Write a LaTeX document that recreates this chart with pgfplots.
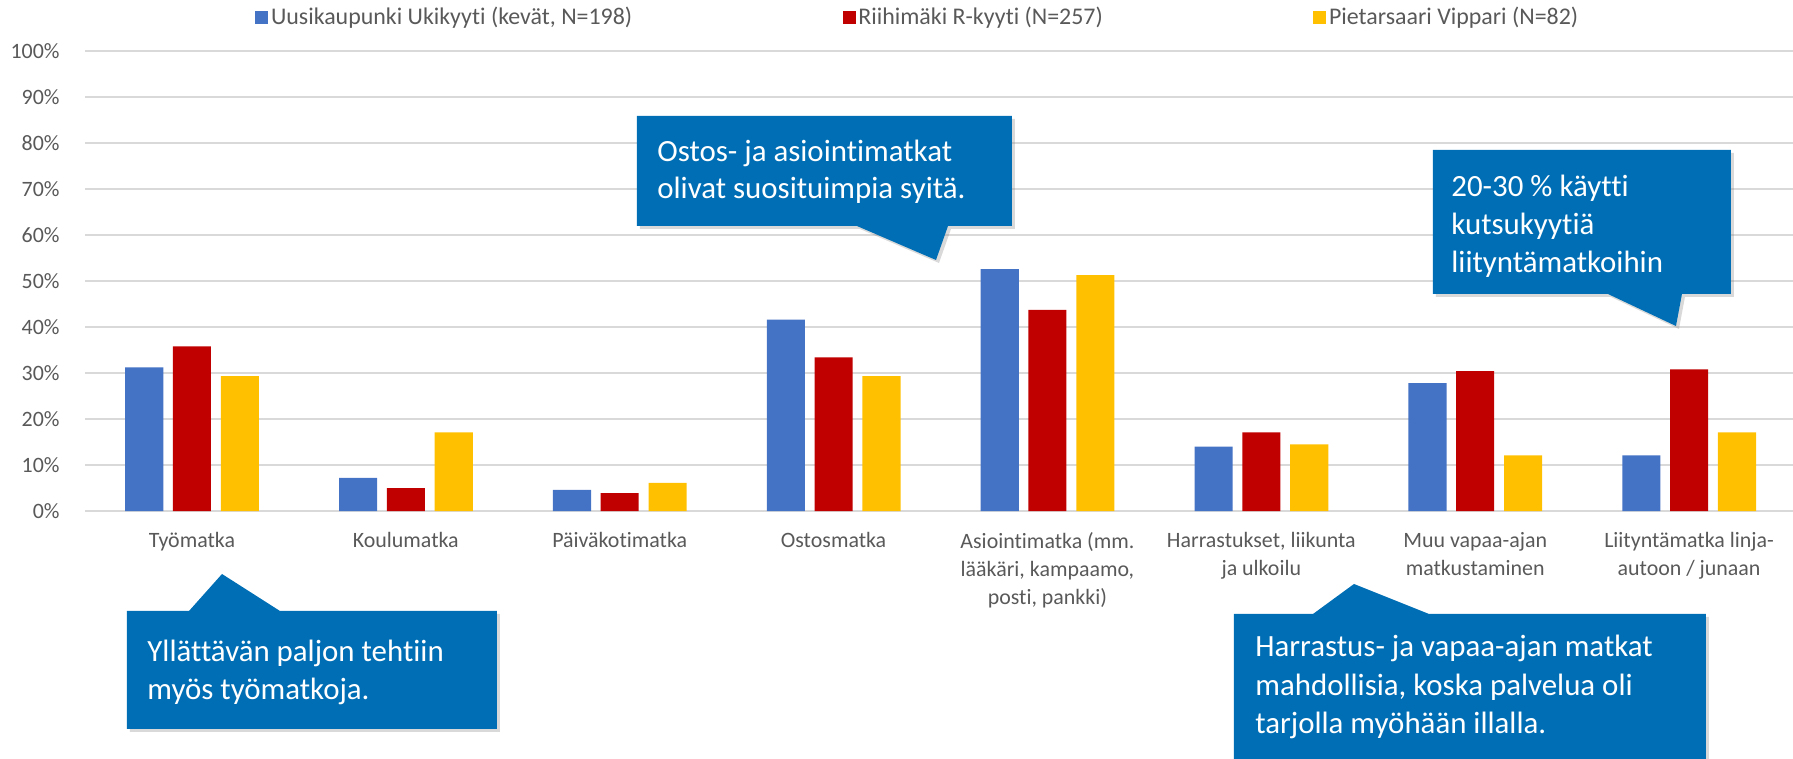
\documentclass[border=0pt]{standalone}
\usepackage{pgfplots}
\pgfplotsset{compat=1.18}
\usepackage{fontspec}
\setmainfont{Carlito}[Ligatures=NoCommon]
\usetikzlibrary{shadows}
\definecolor{cBlue}{HTML}{4472C4}
\definecolor{cRed}{HTML}{C00000}
\definecolor{cYellow}{HTML}{FFC000}
\definecolor{cCall}{HTML}{006EB4}
\definecolor{cText}{HTML}{595959}
\definecolor{cGrid}{HTML}{D9D9D9}
\begin{document}
\begin{tikzpicture}
\path[use as bounding box] (0,0) rectangle (896.5bp,-379.5bp);
\begin{axis}[
  scale only axis,
  width=855.5bp, height=230bp,
  at={(42.5bp,-255.5bp)}, anchor=south west,
  ybar, bar width=0.178,
  xmin=-0.5, xmax=7.5, ymin=0, ymax=100,
  xtick={0,...,7},
  xticklabels={Työmatka, Koulumatka, Päiväkotimatka, Ostosmatka,
    {Asiointimatka (mm.\\lääkäri, kampaamo,\\posti, pankki)},
    {Harrastukset, liikunta\\ja ulkoilu},
    {Muu vapaa-ajan\\matkustaminen},
    {Liityntämatka linja-\\autoon / junaan}},
  ytick={0,10,...,100},
  yticklabels={0\%,10\%,20\%,30\%,40\%,50\%,60\%,70\%,80\%,90\%,100\%},
  major tick length=0pt,
  axis line style={draw=none},
  ymajorgrids, grid style={cGrid, line width=1bp},
  tick label style={text=cText, font=\fontsize{11}{14}\selectfont, inner sep=0pt},
  xticklabel style={align=center, yshift=-10.5bp},
  yticklabel style={xshift=-12.5bp},
  legend columns=3,
  legend style={at={(axis description cs:0.0994,1.0739)}, anchor=west,
    draw=none, fill=none, inner sep=0pt, text=cText,
    font=\fontsize{12}{14}\selectfont,
    nodes={inner sep=1.3bp},
    /tikz/every even column/.append style={column sep=104bp}},
]
\addplot[draw=none, fill=cBlue, bar shift=-0.223,
  legend image code/.code={\fill[cBlue] (0bp,-3.25bp) rectangle (6.5bp,3.25bp);}]
  coordinates {(0,31.2) (1,7.2) (2,4.6) (3,41.6) (4,52.6) (5,14.0) (6,27.8) (7,12.1)};
\addlegendentry{Uusikaupunki Ukikyyti (kevät, N=198)}
\addplot[draw=none, fill=cRed, bar shift=0,
  legend image code/.code={\fill[cRed] (0bp,-3.25bp) rectangle (6.5bp,3.25bp);}]
  coordinates {(0,35.8) (1,5.0) (2,3.9) (3,33.4) (4,43.7) (5,17.1) (6,30.4) (7,30.8)};
\addlegendentry{Riihimäki R-kyyti (N=257)}
\addplot[draw=none, fill=cYellow, bar shift=0.224,
  legend image code/.code={\fill[cYellow] (0bp,-3.25bp) rectangle (6.5bp,3.25bp);}]
  coordinates {(0,29.3) (1,17.1) (2,6.1) (3,29.3) (4,51.3) (5,14.5) (6,12.1) (7,17.1)};
\addlegendentry{Pietarsaari Vippari (N=82)}
\end{axis}
\begin{scope}[x=0.5bp,y=-0.5bp]
\tikzset{callout/.style={fill=cCall, drop shadow={shadow xshift=1.5bp,shadow yshift=-1.5bp,opacity=0.3}},
  ctext/.style={anchor=base west, inner sep=0pt, text=white, font=\fontsize{15.5}{19}\selectfont}}
% callout 1
\path[callout] (127,611) -- (189,611) -- (222,574) -- (280,611) -- (497,611) -- (497,729) -- (127,729) -- cycle;
\node[ctext] at (147,662) {Yllättävän paljon tehtiin};
\node[ctext] at (147,700) {myös työmatkoja.};
% callout 2
\path[callout] (637,116) -- (1012,116) -- (1012,226) -- (948,226) -- (936,260) -- (857,226) -- (637,226) -- cycle;
\node[ctext] at (657,162) {Ostos- ja asiointimatkat};
\node[ctext] at (657,199) {olivat suosituimpia syitä.};
% callout 3
\path[callout] (1433,150) -- (1731,150) -- (1731,294) -- (1682,294) -- (1676,326) -- (1608,294) -- (1433,294) -- cycle;
\node[ctext] at (1451,197) {20-30 \% käytti};
\node[ctext] at (1451,235) {kutsukyytiä};
\node[ctext] at (1451,273) {liityntämatkoihin};
% callout 4
\path[callout] (1234,614) -- (1313,614) -- (1354,584) -- (1429,614) -- (1706,614) -- (1706,759) -- (1234,759) -- cycle;
\node[ctext] at (1255,657) {Harrastus- ja vapaa-ajan matkat};
\node[ctext] at (1255,696) {mahdollisia, koska palvelua oli};
\node[ctext] at (1255,734) {tarjolla myöhään illalla.};
\end{scope}
\end{tikzpicture}
\end{document}
